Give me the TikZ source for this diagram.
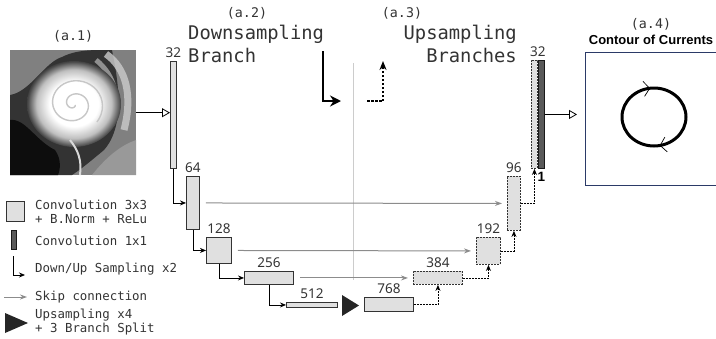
\documentclass[tikz,border=0pt]{standalone}
\usepackage{fontspec}
\setmonofont{DejaVu Sans Mono}
\setsansfont{Noto Sans}
\newfontfamily\titlefont{Liberation Sans}
\usetikzlibrary{positioning,arrows.meta,decorations.markings}
\definecolor{fieldblue}{HTML}{2B3A67}
\pgfdeclareradialshading{eddy}{\pgfpointorigin}{color(0bp)=(white); color(13bp)=(white); color(20bp)=(black!25); color(25bp)=(black!75); color(50bp)=(black!75)}

\tikzset{
  block/.style={draw=black!80, fill=black!12, line width=0.9pt, inner sep=0, anchor=north west},
  upblock/.style={block, dash pattern=on 2pt off 1pt},
  conv/.style={block, fill=black!65, draw=black!90},
  num/.style={font=\sffamily\fontsize{13.5}{13.5}\selectfont, text=black!80, inner sep=0},
  tag/.style={font=\ttfamily\fontsize{13.3}{14}\selectfont, text=black!80, inner sep=0},
  head/.style={font=\ttfamily\fontsize{18.8}{23}\selectfont, text=black!80, inner sep=0},
  legend/.style={font=\ttfamily\fontsize{12.4}{14}\selectfont, text=black!80, align=left, anchor=west, inner sep=0},
  down/.style={-{Stealth[length=6pt,width=5pt]}, line width=0.8pt},
  skip/.style={-{Stealth[length=7pt,width=5pt]}, black!45, line width=1pt},
  up/.style={-{Stealth[length=6pt,width=5pt]}, line width=0.9pt, dash pattern=on 2pt off 1pt},
  feed/.style={-{Triangle[open,length=8pt,width=9pt]}, line width=0.8pt},
  flow/.style={postaction={decorate}, decoration={markings,
    mark=at position 0.22 with {\arrow{Straight Barb[length=6pt,width=15pt,line width=0.7pt]}},
    mark=at position 0.73 with {\arrow{Straight Barb[length=6pt,width=15pt,line width=0.7pt]}}}},
}

\begin{document}
\begin{tikzpicture}[x=1pt,y=-1pt]
  \useasboundingbox (0,0) rectangle (716,338);

  % (a.1) input field
  \begin{scope}
    \clip (10,50) rectangle (136,175);
    \fill[black!50] (10,50) rectangle (136,175);
    \fill[black!80] (10,95) .. controls (30,92) and (45,62) .. (62,57) .. controls (70,53) and (80,50) .. (100,50) -- (112,50) .. controls (118,80) and (126,125) .. (104,150) .. controls (92,160) and (80,170) .. (72,175) -- (10,175) -- cycle;
    \fill[black!95] (10,120) .. controls (25,118) and (35,140) .. (55,150) .. controls (62,160) and (60,170) .. (58,175) -- (10,175) -- cycle;
    \draw[black!20, line width=7pt, opacity=0.8] (106,54) .. controls (126,68) and (133,95) .. (124,130);
    \draw[black!35, line width=5pt, opacity=0.8] (96,60) .. controls (115,75) and (121,100) .. (112,125);
    \fill[black!40] (92,175) .. controls (108,155) and (122,145) .. (136,140) -- (136,175) -- cycle;
    \shade[shading=eddy] (74,104) ellipse (47 and 43);
    \draw[black!22, line width=1.4pt, domain=40:760, samples=80, variable=\t]
      plot ({74+\t/760*30*cos(\t)}, {104+\t/760*28*sin(\t)});
    \draw[white!85!black, line width=2pt] (70,140) .. controls (78,150) and (82,160) .. (80,175);
  \end{scope}
  \node[inner sep=0, minimum width=126pt, minimum height=125pt, anchor=north west] (img) at (10,50) {};
  \node[tag, above=8pt of img] {(a.1)};

  % (a.2) downsampling branch
  \node[tag] at (247,13) {(a.2)};
  \node[head, align=left, anchor=north west] at (188,25) {Downsampling\\Branch};
  \node[block, minimum width=6pt, minimum height=107pt] (d32) at (170,61) {};
  \node[block, minimum width=13pt, minimum height=53pt] (d64) at (186,176) {};
  \node[block, minimum width=25pt, minimum height=26pt] (d128) at (206,237) {};
  \node[block, minimum width=49pt, minimum height=13pt] (d256) at (244,271) {};
  \node[block, minimum width=51pt, minimum height=5pt] (d512) at (286,302) {};
  \node[num, above=3pt of d32] {32};
  \node[num, above=3pt of d64] {64};
  \node[num, above=3pt of d128] {128};
  \node[num, above=3pt of d256] {256};
  \node[num, above=3pt of d512] {512};
  \draw[feed] (img.east) -- (img.east -| d32.west);
  \draw[down] (d32.south) |- (d64);
  \draw[down] (d64.south) |- (d128);
  \draw[down] (d128.south) |- (d256);
  \draw[down] (d256.south) |- (d512);
  \fill[black!85] (342,295) -- (359,305.5) -- (342,316) -- cycle;

  % header arrows
  \coordinate (ds0) at (323,51);
  \coordinate (ds1) at (341,101);
  \draw[-{Stealth[length=11pt,width=11pt]}, line width=1.8pt] (ds0) |- (ds1);
  \coordinate (mid0) at (353,63);
  \coordinate (mid1) at (353,280);
  \draw[black!20, line width=0.6pt] (mid0) -- (mid1);
  \coordinate (us0) at (367,101);
  \coordinate (us1) at (383,61);
  \draw[-{Stealth[length=9pt,width=7pt]}, line width=1.6pt, dash pattern=on 2.5pt off 1.5pt] (us0) -| (us1);

  % (a.3) upsampling branches
  \node[tag] at (402,13) {(a.3)};
  \node[head, align=right, anchor=north east] at (517,25) {Upsampling\\Branches};
  \node[block, minimum width=49pt, minimum height=14pt] (u768) at (364,297) {};
  \node[upblock, minimum width=49pt, minimum height=13pt] (u384) at (413,271) {};
  \node[upblock, minimum width=24pt, minimum height=27pt] (u192) at (476,237) {};
  \node[upblock, minimum width=13pt, minimum height=54pt] (u96) at (507,176) {};
  \node[upblock, minimum width=6pt, minimum height=108pt] (u32) at (531,60) {};
  \node[conv, minimum width=6pt, minimum height=108pt] (c1) at (538,60) {};
  \node[num, above=3pt of u768] {768};
  \node[num, above=3pt of u384] {384};
  \node[num, above=3pt of u192] {192};
  \node[num, above=3pt of u96] {96};
  \node[num, above=3pt of u32.north east] {32};
  \node[num, font=\titlefont\bfseries\fontsize{13.5}{13.5}\selectfont, text=black, below=3pt of c1] {1};
  \draw[up] (u768) -| (u384);
  \draw[up] (u384) -| (u192);
  \draw[up] (u192) -| (u96);
  \draw[up] (u96) -| (u32);
  \draw[skip, shorten <=6pt, shorten >=5pt] (d64) -- (u96);
  \draw[skip, shorten <=6pt, shorten >=5pt] (d128) -- (u192);
  \draw[skip, shorten <=6pt, shorten >=5pt] (d256) -- (u384);

  % (a.4) contour of currents
  \node[draw=fieldblue, line width=1pt, inner sep=0, minimum width=140pt, minimum height=133pt, anchor=north west] (field) at (585,52) {};
  \node[font=\titlefont\bfseries\fontsize{13}{13}\selectfont, inner sep=0] (title) at (651,40) {Contour of Currents};
  \node[tag, above=5pt of title] {(a.4)};
  \draw[feed, shorten >=8pt] (c1.east) -- (c1.east -| field.west);
  \draw[line width=3pt, flow] (654,117) ellipse (32 and 29);

  % legend
  \node[block, minimum width=18pt, minimum height=20pt] (lg3) at (6,201) {};
  \node[legend] at (35,212) {Convolution 3x3\\+ B.Norm + ReLu};
  \node[conv, minimum width=5pt, minimum height=19pt] (lg1) at (11,230) {};
  \node[legend] at (35,241) {Convolution 1x1};
  \coordinate (ld0) at (13,256);
  \coordinate (ld1) at (25,275);
  \draw[down] (ld0) |- (ld1);
  \node[legend] at (35,269) {Down/Up Sampling x2};
  \coordinate (ls0) at (4,297);
  \coordinate (ls1) at (27,297);
  \draw[skip] (ls0) -- (ls1);
  \node[legend] at (35,297) {Skip connection};
  \fill[black!85] (5,313) -- (28,323) -- (5,333) -- cycle;
  \node[legend] at (35,322) {Upsampling x4\\+ 3 Branch Split};
\end{tikzpicture}
\end{document}
